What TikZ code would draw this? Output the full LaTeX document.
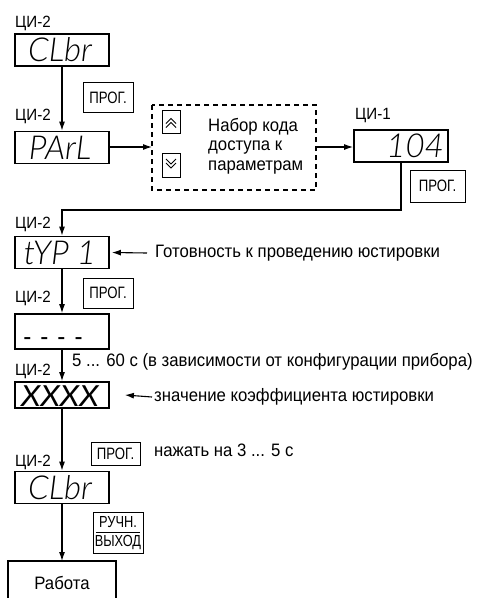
\documentclass[tikz,border=0pt]{standalone}
\usepackage{fontspec}
\setmainfont{Liberation Sans}[FakeStretch=0.93]
\newfontfamily\narrowf{Liberation Sans}[FakeStretch=0.8]
\newfontfamily\segf{Lato Light}[ItalicFont={Lato Light Italic}]
\newfontfamily\segb{Lato}
\usetikzlibrary{arrows.meta}
\tikzset{
  disp/.style={draw, line width=1.8pt, minimum width=94pt, minimum height=32pt, inner sep=0pt},
  segtxt/.style={font=\segf\fontsize{33}{33}\selectfont\itshape, inner sep=0pt},
  btn/.style={draw, line width=1pt, inner sep=0pt, font=\narrowf\fontsize{16.5}{16.5}\selectfont},
  lbl/.style={font=\fontsize{16.3}{16.3}\selectfont, inner sep=0pt, anchor=west},
  txt/.style={font=\fontsize{18}{19.5}\selectfont, inner sep=0pt, anchor=west},
  conn/.style={line width=1.1pt},
  arr/.style={conn, -{Latex[length=9pt,width=6pt]}},
  chev/.style={line width=1pt},
}
\begin{document}
\begin{tikzpicture}[x=1pt,y=-1pt]
\useasboundingbox (0,0) rectangle (479,598);
% labels
\node[lbl] (l1) at (15,23) {ЦИ-2};
\node[lbl] (l2) at (15,116) {ЦИ-2};
\node[lbl] (l3) at (355,116) {ЦИ-1};
\node[lbl] (l4) at (15,224) {ЦИ-2};
\node[lbl] (l5) at (15,298) {ЦИ-2};
\node[lbl] (l6) at (15,371) {ЦИ-2};
\node[lbl] (l7) at (15,462) {ЦИ-2};
% displays
\node[disp] (d1) at (62,50) {};
\node[segtxt] (t1) at (60,50) {CLbr};
\node[disp] (d2) at (62,147.5) {};
\node[segtxt] (t2) at (60,147.5) {PArL};
\node[disp] (d3) at (401,146) {};
\node[segtxt, anchor=east] (t3) at (444,146) {104};
\node[disp] (d4) at (62,252.5) {};
\node[segtxt] (t4) at (60,252.5) {tYP\hspace{8pt}1};
\node[disp, minimum height=35pt] (d5) at (62,331.5) {};
\node[inner sep=0pt, font=\fontsize{26}{26}\selectfont] (t5) at (53,342) {-\hspace{9pt}-\hspace{9pt}-\hspace{9pt}-};
\node[disp, minimum height=26pt] (d6) at (62,395) {};
\node[inner sep=0pt, font=\segb\fontsize{29}{29}\selectfont\itshape] (t6) at (60,396) {\scalebox{1.1}[1]{XXXX}};
\node[disp] (d7) at (62,487.5) {};
\node[segtxt] (t7) at (60,487.5) {CLbr};
% work box
\draw[line width=1.8pt] (8,620) -- (8,561) -- (116,561) -- (116,620);
\node[inner sep=0pt, font=\fontsize{18}{18}\selectfont] (work) at (62,583) {Работа};
\coordinate (worktop) at (62,561);
% buttons
\node[btn, minimum width=50pt, minimum height=30pt] (b1) at (108,97.5) {ПРОГ.};
\node[btn, minimum width=55pt, minimum height=32pt] (b2) at (437.5,186) {ПРОГ.};
\node[btn, minimum width=50pt, minimum height=30pt] (b3) at (108,293) {ПРОГ.};
\node[btn, minimum width=49pt, minimum height=23pt] (b4) at (115.5,453.5) {ПРОГ.};
\node[btn, minimum width=50pt, minimum height=41pt] (b5) at (118,532.5) {};
\node[inner sep=0pt, font=\narrowf\fontsize{16}{16}\selectfont] (b5a) at (118,522.5) {РУЧН.};
\node[inner sep=0pt, font=\narrowf\fontsize{16}{16}\selectfont] (b5b) at (118,543) {ВЫХОД};
\draw[line width=0.9pt] (96,532) -- (140,532);
% dashed box
\draw[line width=1.2pt, dash pattern=on 5pt off 4pt] (152,105) rectangle (316,190);
\coordinate (dl) at (152,147);
\coordinate (dr) at (316,147);
\node[draw, line width=1pt, minimum width=18pt, minimum height=23pt] (up) at (171,121.5) {};
\node[draw, line width=1pt, minimum width=18pt, minimum height=24pt] (dn) at (171,165) {};
\draw[chev, shift={(up.center)}] (-5,2) -- (0,-3) -- (5,2) (-5,6) -- (0,1) -- (5,6);
\draw[chev, shift={(dn.center)}] (-5,-6) -- (0,-1) -- (5,-6) (-5,-2) -- (0,3) -- (5,-2);
\node[txt, align=left] (code) at (208,146) {Набор кода\\доступа к\\параметрам};
% texts
\node[txt] (g) at (155,253) {Готовность к проведению юстировки};
\node[txt] (s) at (72,362) {5 ... 60 с (в зависимости от конфигурации прибора)};
\node[txt] (z) at (154,397) {значение коэффициента юстировки};
\node[txt] (n) at (154,450) {нажать на 3 ... 5 с};
% connectors
\draw[arr] (d1.south) -- (d2.north);
\draw[arr] (d2.east |- dl) -- (dl);
\draw[arr] (dr) -- (d3.west |- dr);
\draw[arr] (d3.south) -- (401,210) -- (62,210) -- (d4.north);
\draw[arr] (d4.south) -- (d5.north);
\draw[arr] (d5.south) -- (d6.north);
\draw[arr] (d6.south) -- (d7.north);
\draw[arr] (d7.south) -- (worktop);
\draw[arr] ([xshift=-8pt]g.west) -- ([xshift=2pt]d4.east);
\draw[arr] ([xshift=-2pt]z.west) -- ([xshift=15pt]d6.east);
\end{tikzpicture}
\end{document}
